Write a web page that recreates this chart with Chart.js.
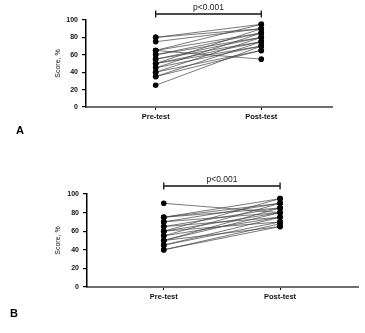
<!DOCTYPE html>
<html>
<head>
<meta charset="utf-8">
<script src="https://cdn.jsdelivr.net/npm/chart.js@4.4.1/dist/chart.umd.min.js"></script>
<style>
    body { margin: 0; background: #fff; width: 365px; height: 333px; position: relative; overflow: hidden; }
    .panel { position: absolute; left: 0; width: 365px; }
    .tag { position: absolute; font: bold 11px "Liberation Sans", Arial, sans-serif; color: #000; }
</style>
</head>
<body>
<div class="panel" style="top:0;height:165px"><canvas id="chart-a" width="365" height="165"></canvas></div>
<div class="panel" style="top:170px;height:163px"><canvas id="chart-b" width="365" height="163"></canvas></div>
<div class="tag" style="left:16px;top:124px">A</div>
<div class="tag" style="left:10px;top:307px">B</div>
<script>
const groups = ['Pre-test', 'Post-test'];
const yTicks = [0, 20, 40, 60, 80, 100];
const pValue = 'p<0.001';

// Panel A scores, one entry per participant
const preA  = [80, 80, 75, 65, 65, 65, 60, 60, 55, 55, 50, 50, 50, 45, 45, 40, 40, 35, 35, 25];
const postA = [95, 90, 90, 95, 55, 85, 85, 80, 80, 75, 90, 75, 70, 85, 70, 80, 65, 75, 65, 70];

// Panel B scores
const preB  = [90, 75, 75, 75, 70, 70, 65, 65, 60, 60, 60, 55, 55, 50, 50, 50, 45, 45, 40, 40];
const postB = [80, 90, 95, 85, 90, 80, 85, 75, 95, 80, 70, 90, 75, 85, 65, 80, 70, 75, 68, 65];

const FONT = '"Liberation Sans", Arial, sans-serif';

// significance bracket drawn above the two groups
const bracketPlugin = {
    id: 'bracket',
    afterDraw(chart, args, opts) {
        const ctx = chart.ctx;
        const x = chart.scales.x;
        const x1 = x.getPixelForValue(1);
        const x2 = x.getPixelForValue(2);
        const y = chart.chartArea.top - opts.gap;
        ctx.save();
        ctx.strokeStyle = '#111';
        ctx.lineWidth = 1.3;
        ctx.beginPath();
        ctx.moveTo(x1, y); ctx.lineTo(x2, y);
        ctx.moveTo(x1, y - 3.5); ctx.lineTo(x1, y + 3.5);
        ctx.moveTo(x2, y - 3.5); ctx.lineTo(x2, y + 3.5);
        ctx.stroke();
        ctx.fillStyle = '#222';
        ctx.font = '8.5px ' + FONT;
        ctx.textAlign = 'center';
        ctx.textBaseline = 'bottom';
        ctx.fillText(opts.text, (x1 + x2) / 2, y - 2);
        ctx.restore();
    }
};

function buildPaired(canvasId, pre, post, box) {
    const datasets = pre.map((v, i) => ({
        data: [{ x: 1, y: v }, { x: 2, y: post[i] }],
        borderColor: '#404040',
        borderWidth: 0.7,
        pointRadius: 2.8,
        pointBackgroundColor: '#000',
        pointBorderColor: '#000',
        pointBorderWidth: 0
    }));

    return new Chart(document.getElementById(canvasId), {
        type: 'line',
        data: { datasets },
        options: {
            responsive: false,
            animation: false,
            layout: { padding: { left: 0, right: box.right, top: box.top, bottom: 0 } },
            plugins: {
                legend: { display: false },
                tooltip: { enabled: false },
                bracket: { text: pValue, gap: box.gap }
            },
            scales: {
                x: {
                    type: 'linear',
                    min: 0.34,
                    max: 2.67,
                    afterBuildTicks: s => { s.ticks = [{ value: 1 }, { value: 2 }]; },
                    afterFit: s => { s.height = box.xh; },
                    border: { color: '#6e6e6e', width: 2 },
                    grid: { drawOnChartArea: false, drawTicks: true, tickLength: 3, color: '#000', lineWidth: 1 },
                    ticks: {
                        callback: v => groups[v - 1],
                        color: '#111',
                        padding: 2,
                        maxRotation: 0,
                        font: { family: FONT, size: 7.5, weight: 'bold' }
                    }
                },
                y: {
                    min: 0,
                    max: 100,
                    afterBuildTicks: s => { s.ticks = yTicks.map(v => ({ value: v })); },
                    afterFit: s => { s.width = box.left; },
                    border: { color: '#000', width: 1.5 },
                    grid: { drawOnChartArea: false, drawTicks: true, tickLength: 4, color: '#000', lineWidth: 1.2 },
                    ticks: {
                        color: '#111',
                        padding: 4,
                        font: { family: FONT, size: 7, weight: 'bold' }
                    },
                    title: {
                        display: true,
                        text: 'Score, %',
                        color: '#111',
                        // pushes the title in towards the tick labels
                        padding: { top: 54, bottom: 0 },
                        font: { family: FONT, size: 7 }
                    }
                }
            }
        },
        plugins: [bracketPlugin]
    });
}

buildPaired('chart-a', preA, postA, { left: 86, right: 33, top: 20, xh: 58, gap: 6 });
buildPaired('chart-b', preB, postB, { left: 87, right: 7, top: 24, xh: 46, gap: 8 });
</script>
</body>
</html>
